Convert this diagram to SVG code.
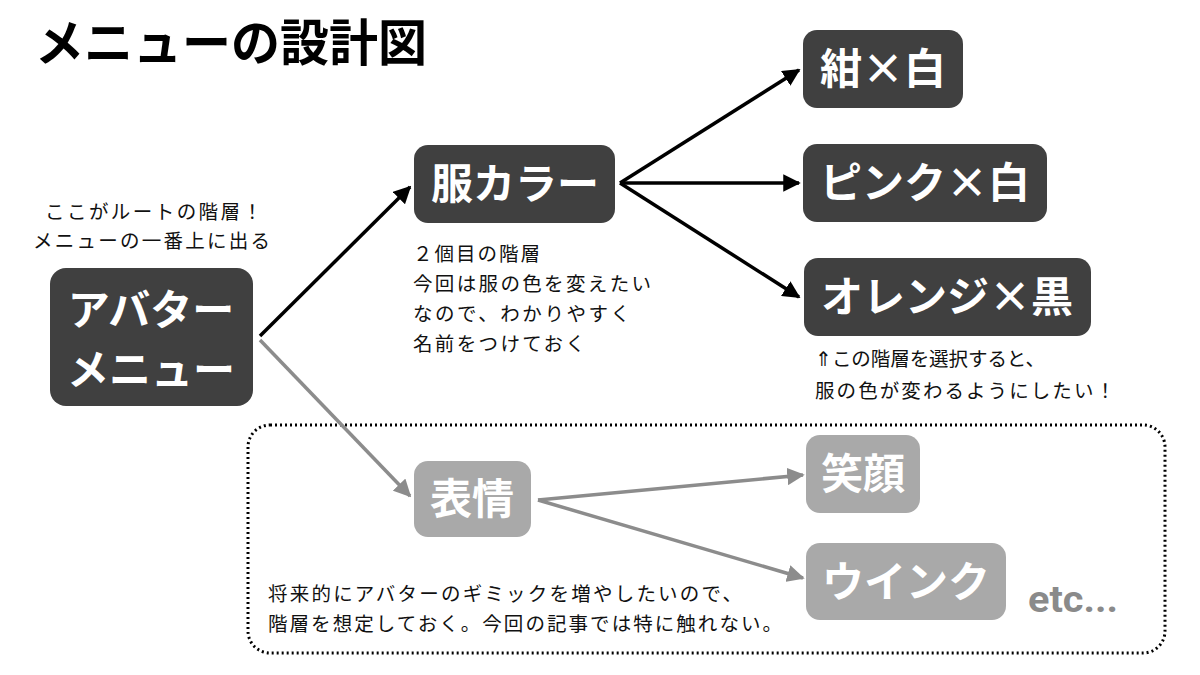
<svg xmlns="http://www.w3.org/2000/svg" width="1200" height="675" viewBox="0 0 1200 675">
<defs>
<style>
.title{font-family:"Noto Sans CJK JP","Noto Sans",sans-serif;font-weight:700;font-size:50px;fill:#000}
.dark{fill:#404040}
.light{fill:#a9a9a9}
.nt{font-family:"Noto Sans CJK JP","Noto Sans",sans-serif;font-weight:700;font-size:42px;fill:#fff;text-anchor:middle}
.note{font-family:"Noto Sans CJK JP","Noto Sans",sans-serif;font-weight:400;font-size:19.5px;fill:#111}
.etc{font-family:Roboto,"Noto Sans",sans-serif;font-weight:700;font-size:36px;fill:#8a8a8a}
.cb{stroke:#000;stroke-width:3.5;fill:none}
.cg{stroke:#8c8c8c;stroke-width:3.5;fill:none}
</style>
<marker id="ab" viewBox="0 0 10 10" refX="9" refY="5" markerWidth="5" markerHeight="5" orient="auto" markerUnits="strokeWidth"><path d="M0,0 L10,5 L0,10 z" fill="#000"/></marker>
<marker id="ag" viewBox="0 0 10 10" refX="9" refY="5" markerWidth="5" markerHeight="5" orient="auto" markerUnits="strokeWidth"><path d="M0,0 L10,5 L0,10 z" fill="#8c8c8c"/></marker>
</defs>
<rect width="1200" height="675" fill="#fff"/>
<text class="title" x="35" y="61" textLength="392" lengthAdjust="spacingAndGlyphs">メニューの設計図</text>

<rect x="248" y="425" width="917" height="228" rx="22" fill="none" stroke="#000" stroke-width="3" stroke-dasharray="2 3"/>

<g id="connectors">
<line class="cb" x1="260" y1="336" x2="410" y2="187" marker-end="url(#ab)"/>
<line class="cb" x1="620" y1="183" x2="799" y2="70" marker-end="url(#ab)"/>
<line class="cb" x1="620" y1="183" x2="799" y2="183" marker-end="url(#ab)"/>
<line class="cb" x1="620" y1="183" x2="799" y2="297" marker-end="url(#ab)"/>
<line class="cg" x1="260" y1="340" x2="410" y2="496" marker-end="url(#ag)"/>
<line class="cg" x1="538" y1="500" x2="803" y2="475" marker-end="url(#ag)"/>
<line class="cg" x1="538" y1="500" x2="803" y2="578" marker-end="url(#ag)"/>
</g>

<g id="avatar-menu">
<rect class="dark" x="50" y="268" width="203" height="138" rx="16"/>
<text class="nt" x="151" y="325">アバター</text>
<text class="nt" x="151" y="385">メニュー</text>
<text class="note" x="45" y="219" textLength="217" lengthAdjust="spacing">ここがルートの階層！</text>
<text class="note" x="33" y="248" textLength="237" lengthAdjust="spacing">メニューの一番上に出る</text>
</g>

<g id="fuku-color">
<rect class="dark" x="414" y="145" width="201" height="78" rx="14"/>
<text class="nt" x="515" y="199">服カラー</text>
<text class="note" x="413" y="261" textLength="127" lengthAdjust="spacing">２個目の階層</text>
<text class="note" x="413" y="291" textLength="238" lengthAdjust="spacing">今回は服の色を変えたい</text>
<text class="note" x="413" y="321" textLength="217" lengthAdjust="spacing">なので、わかりやすく</text>
<text class="note" x="413" y="351" textLength="172" lengthAdjust="spacing">名前をつけておく</text>
</g>

<g id="kon-shiro">
<rect class="dark" x="803" y="30" width="160" height="78" rx="14"/>
<text class="nt" x="883" y="84">紺×白</text>
</g>
<g id="pink-shiro">
<rect class="dark" x="803" y="144" width="244" height="78" rx="14"/>
<text class="nt" x="925" y="198">ピンク×白</text>
</g>
<g id="orange-kuro">
<rect class="dark" x="804" y="258" width="287" height="78" rx="14"/>
<text class="nt" x="947" y="312">オレンジ×黒</text>
<text class="note" x="815" y="366" textLength="230" lengthAdjust="spacing">⇑この階層を選択すると、</text>
<text class="note" x="815" y="398" textLength="300" lengthAdjust="spacing">服の色が変わるようにしたい！</text>
</g>

<g id="hyoujou">
<rect class="light" x="414" y="461" width="117" height="76" rx="14"/>
<text class="nt" x="472" y="514">表情</text>
</g>
<g id="egao">
<rect class="light" x="806" y="435" width="114" height="78" rx="14"/>
<text class="nt" x="863" y="489">笑顔</text>
</g>
<g id="wink">
<rect class="light" x="806" y="543" width="200" height="77" rx="14"/>
<text class="nt" x="906" y="597">ウインク</text>
</g>
<text class="etc" x="1028" y="612" textLength="90" lengthAdjust="spacingAndGlyphs">etc...</text>
<text class="note" x="268" y="601" textLength="474" lengthAdjust="spacing">将来的にアバターのギミックを増やしたいので、</text>
<text class="note" x="268" y="631" textLength="514" lengthAdjust="spacing">階層を想定しておく。今回の記事では特に触れない。</text>
</svg>
